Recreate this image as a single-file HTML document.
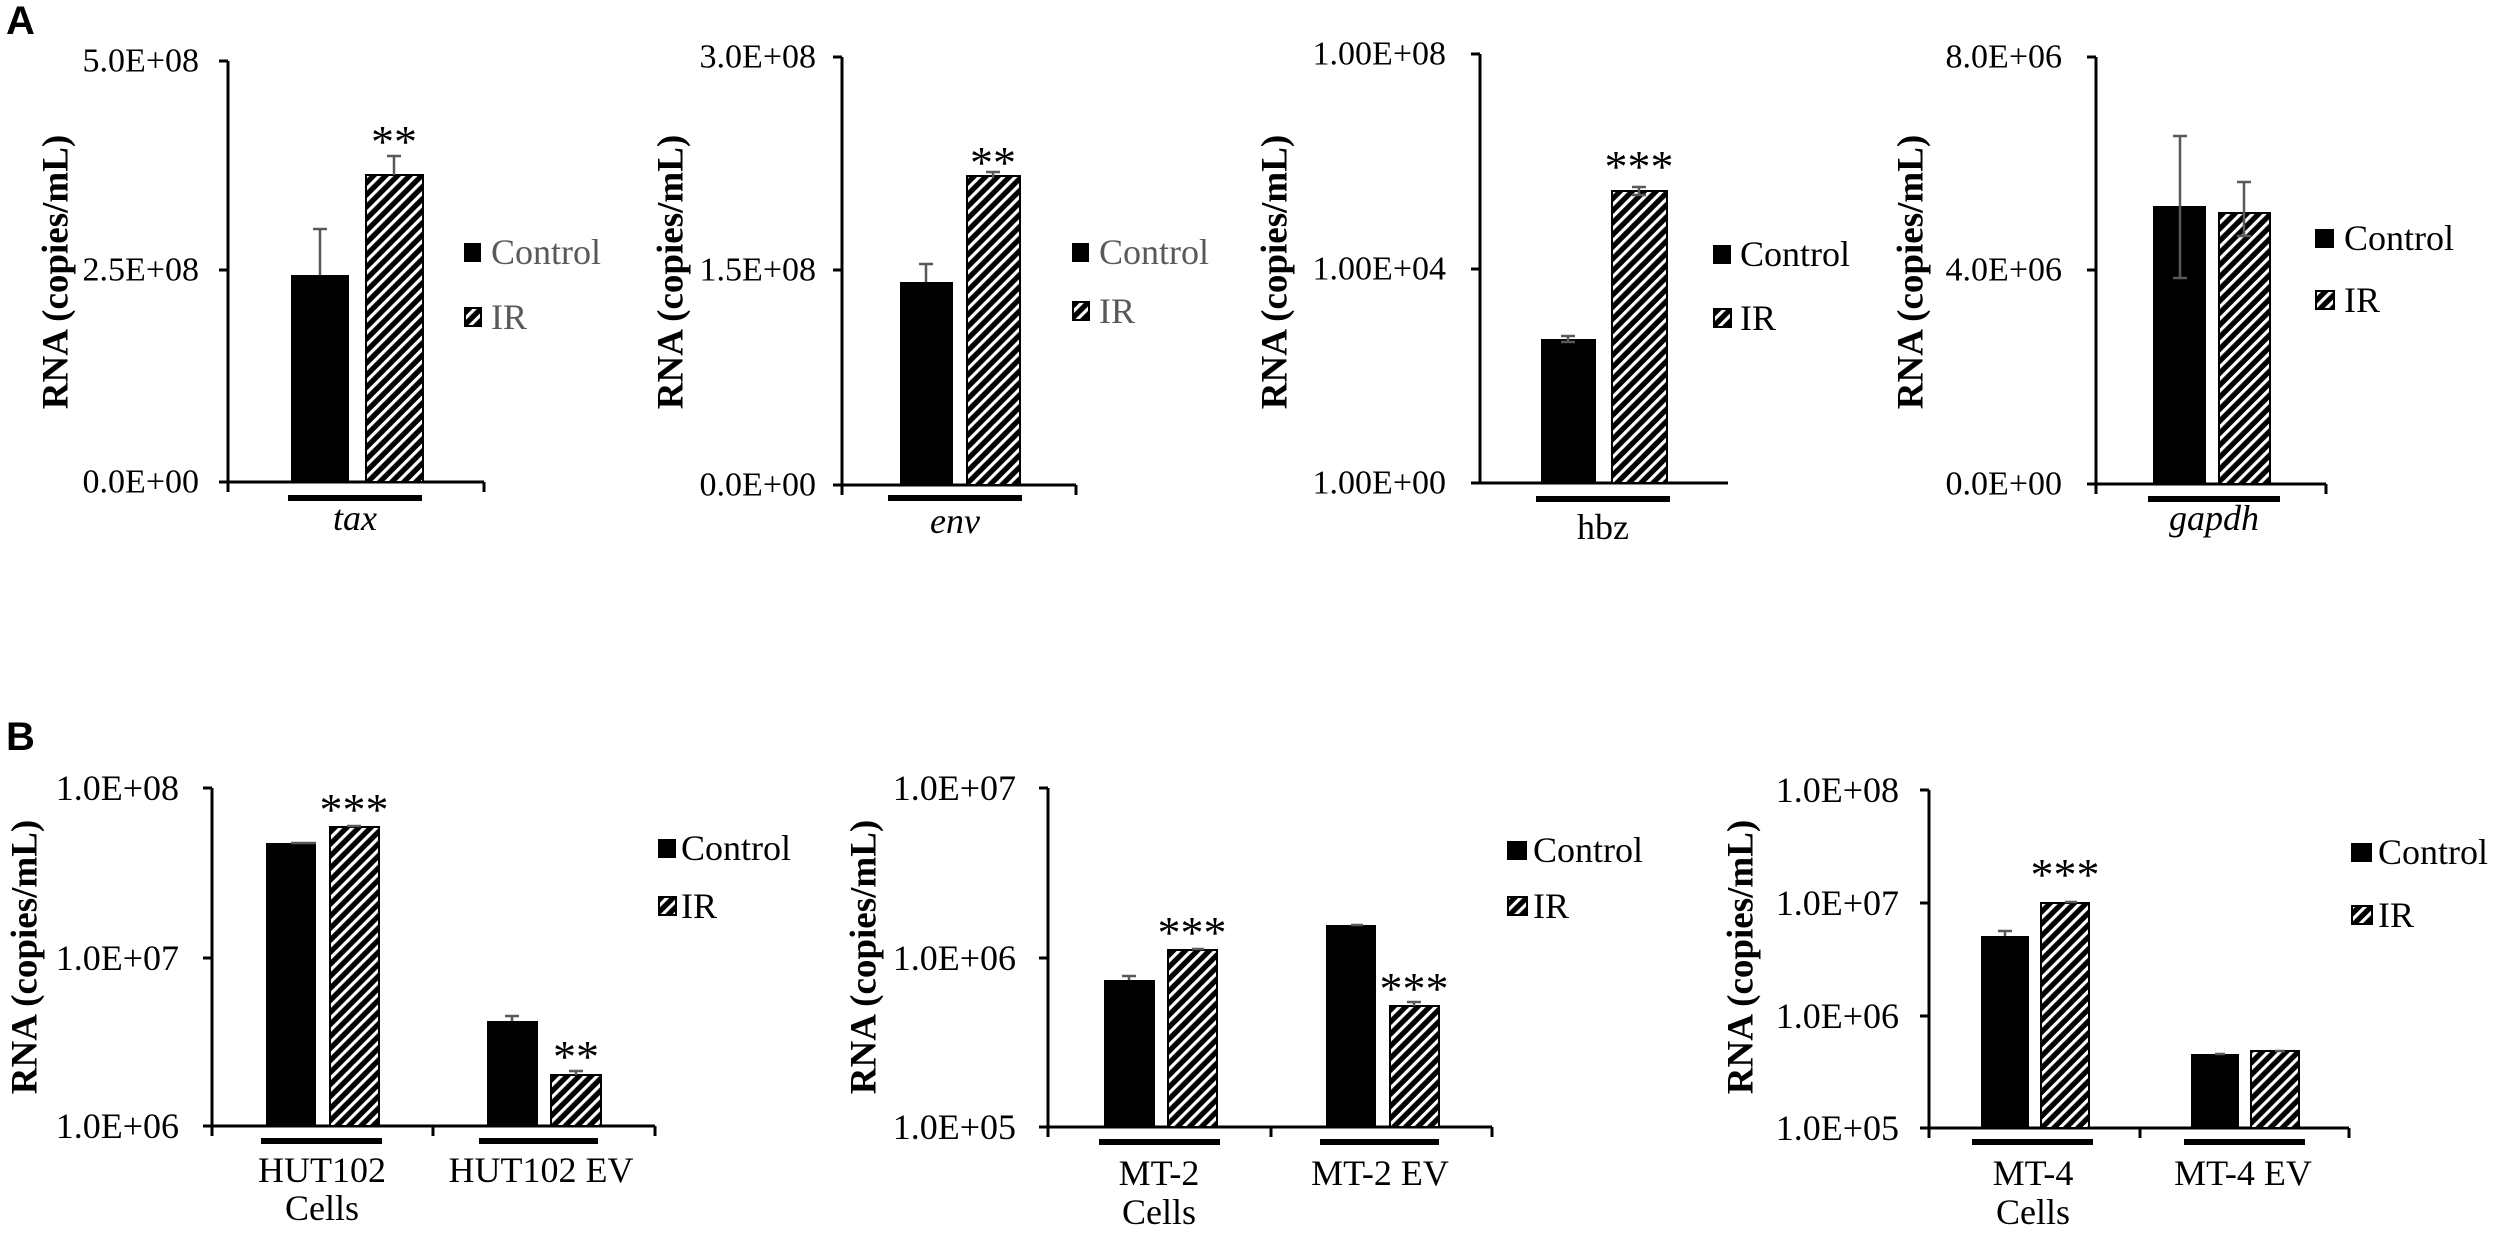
<!DOCTYPE html>
<html><head><meta charset="utf-8"><style>
html,body{margin:0;padding:0;background:#fff;}
svg{display:block;}
.s{font-family:"Liberation Serif","Times New Roman",serif;}
.a{font-family:"Liberation Sans",Arial,sans-serif;}
</style></head><body>
<svg width="2500" height="1234" viewBox="0 0 2500 1234" xmlns="http://www.w3.org/2000/svg" font-family="Liberation Serif, serif">
<defs>
<pattern id="h" patternUnits="userSpaceOnUse" width="8.5" height="8.5" patternTransform="rotate(45)">
<rect width="8.5" height="8.5" fill="#000"/>
<rect x="0" y="0" width="3.2" height="8.5" fill="#fff"/>
</pattern>
</defs>
<g class="a" font-family="Liberation Sans, sans-serif" font-weight="bold" font-size="40">
<text x="6" y="34">A</text>
<text x="6" y="750">B</text>
</g>

<g class="s" font-family="Liberation Serif, serif">
<!-- Y labels -->
<g font-size="37" font-weight="bold" text-anchor="middle" dominant-baseline="central">
<text transform="translate(56,272) rotate(-90)">RNA (copies/mL)</text>
<text transform="translate(671,272) rotate(-90)">RNA (copies/mL)</text>
<text transform="translate(1275,272) rotate(-90)">RNA (copies/mL)</text>
<text transform="translate(1911,272) rotate(-90)">RNA (copies/mL)</text>
<text transform="translate(25,957) rotate(-90)">RNA (copies/mL)</text>
<text transform="translate(864,957) rotate(-90)">RNA (copies/mL)</text>
<text transform="translate(1741,957) rotate(-90)">RNA (copies/mL)</text>
</g>

<g stroke="#000" stroke-width="3" fill="none">
<path d="M228 61V482H484M219 61H228M219 270H228M219 482H228M228 482V492M484 482V492"/>
<path d="M842 57V485H1076M833 57H842M833 270H842M833 485H842M842 485V495M1076 485V495"/>
<path d="M1480 54V483H1728M1471 54H1480M1471 269H1480M1471 483H1480"/>
<path d="M2096 57V484H2326M2087 57H2096M2087 270H2096M2087 484H2096M2096 484V494M2326 484V494"/>
<path d="M212 788V1126H655M203 788H212M203 958H212M203 1126H212M212 1126V1136M433 1126V1136M655 1126V1136"/>
<path d="M1048 788V1127H1492M1039 788H1048M1039 958H1048M1039 1127H1048M1048 1127V1137M1271 1127V1137M1492 1127V1137"/>
<path d="M1929 790V1128H2349M1920 790H1929M1920 903H1929M1920 1016H1929M1920 1128H1929M1929 1128V1138M2140 1128V1138M2349 1128V1138"/>
</g>

<g font-size="34" text-anchor="end" dominant-baseline="central">
<text x="199" y="61">5.0E+08</text><text x="199" y="270">2.5E+08</text><text x="199" y="482">0.0E+00</text>
<text x="816" y="57">3.0E+08</text><text x="816" y="270">1.5E+08</text><text x="816" y="485">0.0E+00</text>
<text x="1446" y="54">1.00E+08</text><text x="1446" y="269">1.00E+04</text><text x="1446" y="483">1.00E+00</text>
<text x="2062" y="57">8.0E+06</text><text x="2062" y="270">4.0E+06</text><text x="2062" y="484">0.0E+00</text>
</g>
<g font-size="36" text-anchor="end" dominant-baseline="central">
<text x="179" y="788">1.0E+08</text><text x="179" y="958">1.0E+07</text><text x="179" y="1126">1.0E+06</text>
<text x="1016" y="788">1.0E+07</text><text x="1016" y="958">1.0E+06</text><text x="1016" y="1127">1.0E+05</text>
<text x="1899" y="790">1.0E+08</text><text x="1899" y="903">1.0E+07</text><text x="1899" y="1016">1.0E+06</text><text x="1899" y="1128">1.0E+05</text>
</g>

<g>
<rect x="291" y="275" width="58" height="207" fill="#000"/>
<rect x="366" y="175" width="57" height="307" fill="url(#h)" stroke="#000" stroke-width="2"/>
<rect x="900" y="282" width="53" height="203" fill="#000"/>
<rect x="967" y="176" width="53" height="309" fill="url(#h)" stroke="#000" stroke-width="2"/>
<rect x="1541" y="339" width="55" height="144" fill="#000"/>
<rect x="1612" y="191" width="55" height="292" fill="url(#h)" stroke="#000" stroke-width="2"/>
<rect x="2153" y="206" width="53" height="278" fill="#000"/>
<rect x="2219" y="213" width="51" height="271" fill="url(#h)" stroke="#000" stroke-width="2"/>
<rect x="266" y="843" width="50" height="283" fill="#000"/>
<rect x="330" y="827" width="49" height="299" fill="url(#h)" stroke="#000" stroke-width="2"/>
<rect x="487" y="1021" width="51" height="105" fill="#000"/>
<rect x="551" y="1075" width="50" height="51" fill="url(#h)" stroke="#000" stroke-width="2"/>
<rect x="1104" y="980" width="51" height="147" fill="#000"/>
<rect x="1168" y="950" width="49" height="177" fill="url(#h)" stroke="#000" stroke-width="2"/>
<rect x="1326" y="925" width="50" height="202" fill="#000"/>
<rect x="1390" y="1006" width="49" height="121" fill="url(#h)" stroke="#000" stroke-width="2"/>
<rect x="1981" y="936" width="48" height="192" fill="#000"/>
<rect x="2041" y="903" width="48" height="225" fill="url(#h)" stroke="#000" stroke-width="2"/>
<rect x="2191" y="1054" width="48" height="74" fill="#000"/>
<rect x="2251" y="1051" width="48" height="77" fill="url(#h)" stroke="#000" stroke-width="2"/>
</g>

<g stroke="#595959" stroke-width="2.5" fill="none">
<path d="M320 229V275M313 229H327"/>
<path d="M394 156V175M387 156H401"/>
<path d="M926 264V282M919 264H933"/>
<path d="M993 172V178M986 172H1000"/>
<path d="M1568 336V342M1561 336H1575M1561 342H1575"/>
<path d="M1639 187V195M1632 187H1646M1632 195H1646"/>
<path d="M2180 136V278M2173 136H2187M2173 278H2187"/>
<path d="M2244 182V236M2237 182H2251M2237 236H2251"/>
<path d="M291 843H316"/>
<path d="M347 826H361"/>
<path d="M512 1016V1021M505 1016H519"/>
<path d="M576 1071V1075M569 1071H583"/>
<path d="M1129 976V980M1122 976H1136"/>
<path d="M1192 949H1204"/>
<path d="M1351 925H1363"/>
<path d="M1414 1002V1006M1407 1002H1421"/>
<path d="M2005 931V936M1998 931H2012"/>
<path d="M2065 902H2077"/>
<path d="M2215 1054H2225"/>
<path d="M2275 1051H2285"/>
</g>

<g fill="#000">
<rect x="288" y="495" width="134" height="6"/>
<rect x="888" y="495" width="134" height="6"/>
<rect x="1536" y="496" width="134" height="6"/>
<rect x="2148" y="496" width="132" height="6"/>
<rect x="261" y="1138" width="121" height="6"/>
<rect x="479" y="1138" width="119" height="6"/>
<rect x="1099" y="1139" width="121" height="6"/>
<rect x="1320" y="1139" width="119" height="6"/>
<rect x="1972" y="1139" width="121" height="6"/>
<rect x="2184" y="1139" width="121" height="6"/>
</g>

<g font-size="36" text-anchor="middle" dominant-baseline="central">
<text x="355" y="518" font-style="italic">tax</text>
<text x="955" y="521" font-style="italic">env</text>
<text x="1603" y="527">hbz</text>
<text x="2214" y="518" font-style="italic">gapdh</text>
<text x="322" y="1170">HUT102</text><text x="322" y="1208">Cells</text>
<text x="541" y="1170">HUT102 EV</text>
<text x="1159" y="1173">MT-2</text><text x="1159" y="1212">Cells</text>
<text x="1380" y="1173">MT-2 EV</text>
<text x="2033" y="1173">MT-4</text><text x="2033" y="1212">Cells</text>
<text x="2243" y="1173">MT-4 EV</text>
</g>

<g font-size="46" text-anchor="middle">
<text x="394" y="157">**</text>
<text x="993" y="178">**</text>
<text x="1639" y="182">***</text>
<text x="354" y="825">***</text>
<text x="576" y="1072">**</text>
<text x="1192" y="948">***</text>
<text x="1414" y="1004">***</text>
<text x="2065" y="890">***</text>
</g>

<g font-size="36" dominant-baseline="central">
<rect x="464" y="243" width="17" height="19" fill="#000"/>
<rect x="465" y="308" width="16" height="18" fill="url(#h)" stroke="#000" stroke-width="2"/>
<text x="491" y="252" fill="#595959">Control</text><text x="491" y="317" fill="#595959">IR</text>
<rect x="1072" y="243" width="17" height="19" fill="#000"/>
<rect x="1073" y="302" width="16" height="18" fill="url(#h)" stroke="#000" stroke-width="2"/>
<text x="1099" y="252" fill="#595959">Control</text><text x="1099" y="311" fill="#595959">IR</text>
<rect x="1713" y="245" width="18" height="19" fill="#000"/>
<rect x="1714" y="309" width="17" height="18" fill="url(#h)" stroke="#000" stroke-width="2"/>
<text x="1740" y="254">Control</text><text x="1740" y="318">IR</text>
<rect x="2315" y="229" width="19" height="19" fill="#000"/>
<rect x="2316" y="291" width="18" height="18" fill="url(#h)" stroke="#000" stroke-width="2"/>
<text x="2344" y="238">Control</text><text x="2344" y="300">IR</text>
<rect x="658" y="839" width="18" height="19" fill="#000"/>
<rect x="659" y="897" width="17" height="18" fill="url(#h)" stroke="#000" stroke-width="2"/>
<text x="681" y="848">Control</text><text x="681" y="906">IR</text>
<rect x="1507" y="841" width="20" height="19" fill="#000"/>
<rect x="1508" y="897" width="19" height="18" fill="url(#h)" stroke="#000" stroke-width="2"/>
<text x="1533" y="850">Control</text><text x="1533" y="906">IR</text>
<rect x="2351" y="843" width="21" height="19" fill="#000"/>
<rect x="2352" y="906" width="20" height="18" fill="url(#h)" stroke="#000" stroke-width="2"/>
<text x="2378" y="852">Control</text><text x="2378" y="915">IR</text>
</g>
</g>
</svg>
</body></html>
